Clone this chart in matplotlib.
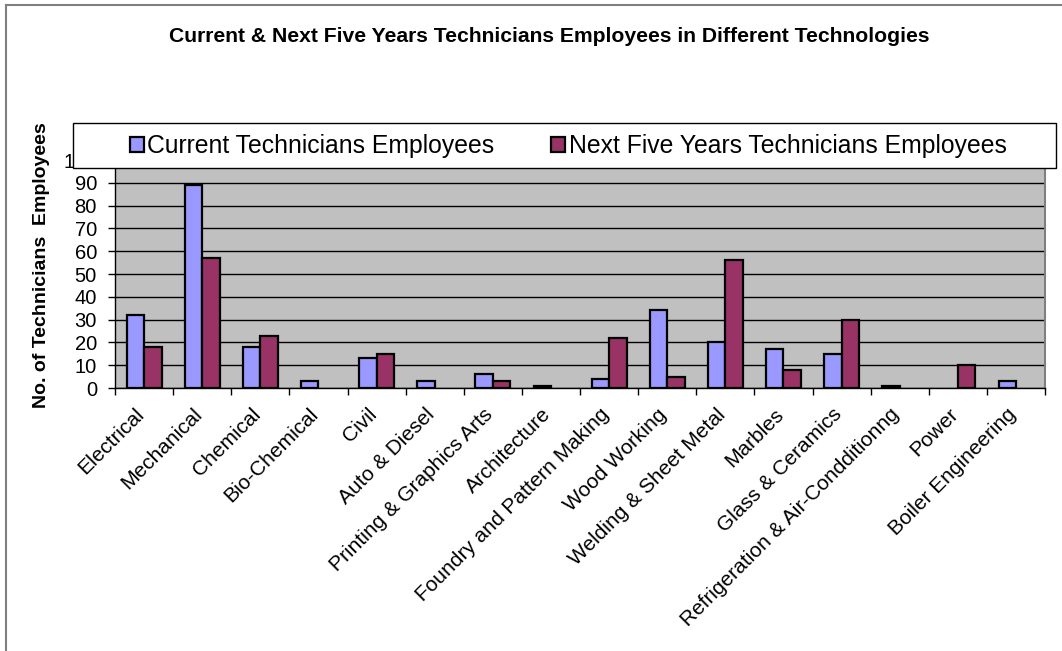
import matplotlib
matplotlib.use("Agg")
import matplotlib.pyplot as plt
import matplotlib.transforms as mtransforms
import numpy as np
from matplotlib.patches import Rectangle
from matplotlib.lines import Line2D

categories = ["Electrical", "Mechanical", "Chemical", "Bio-Chemical", "Civil",
              "Auto & Diesel", "Printing & Graphics Arts", "Architecture",
              "Foundry and Pattern Making", "Wood Working", "Welding & Sheet Metal",
              "Marbles", "Glass & Ceramics", "Refrigeration & Air-Condditionng",
              "Power", "Boiler Engineering"]
current = [32, 89, 18, 3, 13, 3, 6, 1, 4, 34, 20, 17, 15, 1, 0, 3]
next_five = [18, 57, 23, 0, 15, 0, 3, 0, 22, 5, 56, 8, 30, 0, 10, 0]
yticks = list(range(0, 101, 10))

title = "Current & Next Five Years Technicians Employees in Different Technologies"
ylabel = "No. of Technicians  Employees"
series_names = ["Current Technicians Employees", "Next Five Years Technicians Employees"]

plt.rcParams['font.family'] = ['Liberation Sans', 'DejaVu Sans']

W, H = 1062, 651
fig = plt.figure(figsize=(W/100, H/100), dpi=100)
ax = fig.add_axes([115/W, 1-388/H, (1045-115)/W, (388-160)/H])
ax.set_facecolor('#C0C0C0')

x = np.arange(len(categories))
bw = 0.3
b1 = ax.bar(x - bw/2, current, bw, color='#9999FF', edgecolor='black', linewidth=1.6, zorder=3)
b2 = ax.bar(x + bw/2, next_five, bw, color='#993366', edgecolor='black', linewidth=1.6, zorder=3)
for cont in (b1, b2):
    for p in cont.patches:
        if p.get_height() == 0:
            p.set_linewidth(0)

ax.set_xlim(-0.5, len(categories) - 0.5)
ax.set_ylim(0, 100)
ax.set_yticks(yticks)
ax.set_yticklabels([str(v) for v in yticks], fontsize=14.5)
ax.yaxis.grid(True, color='black', linewidth=1)
ax.set_axisbelow(True)
ax.tick_params(axis='y', direction='out', length=5, width=1, pad=8)

ax.set_xticks(x)
ax.set_xticklabels(categories, rotation=45, ha='right', va='center', rotation_mode='anchor', fontsize=15)
ax.tick_params(axis='x', which='major', length=0, pad=17)
shift = mtransforms.ScaledTranslation(-3/100, 0, fig.dpi_scale_trans)
for lab in ax.get_xticklabels():
    lab.set_transform(lab.get_transform() + shift)
ax.set_xticks(np.arange(-0.5, len(categories), 1), minor=True)
ax.tick_params(axis='x', which='minor', direction='out', length=5, width=1)

ax.spines['top'].set_visible(False)
ax.spines['right'].set_color('#808080')
ax.spines['right'].set_linewidth(1.5)
ax.spines['left'].set_linewidth(1)
ax.spines['bottom'].set_linewidth(1)

fig.text(549/W, 1-37/H, title, ha='center', va='center', fontsize=15.2, fontweight='bold')
fig.text(42/W, 1-265/H, ylabel, ha='center', va='center', rotation=90, fontsize=14, fontweight='bold')

# legend box
fig.patches.append(Rectangle((73/W, 1-168/H), (1056-73)/W, 45/H, transform=fig.transFigure,
                             facecolor='white', edgecolor='black', linewidth=1, zorder=4))
leg = fig.legend([b1, b2], series_names, loc='center left', bbox_to_anchor=(130/W, 1-146/H),
                 ncol=2, frameon=False, fontsize=17.8, handlelength=0.55, handleheight=0.55,
                 handletextpad=0.15, columnspacing=2.3, borderpad=0, borderaxespad=0)
leg.set_zorder(5)

# outer chart border (top and left visible)
fig.add_artist(Line2D([6/W, 1], [1-5/H, 1-5/H], transform=fig.transFigure, color='#808080', linewidth=1.5))
fig.add_artist(Line2D([6/W, 6/W], [0, 1-5/H], transform=fig.transFigure, color='#808080', linewidth=1.5))

fig.savefig('out.png', dpi=100)
